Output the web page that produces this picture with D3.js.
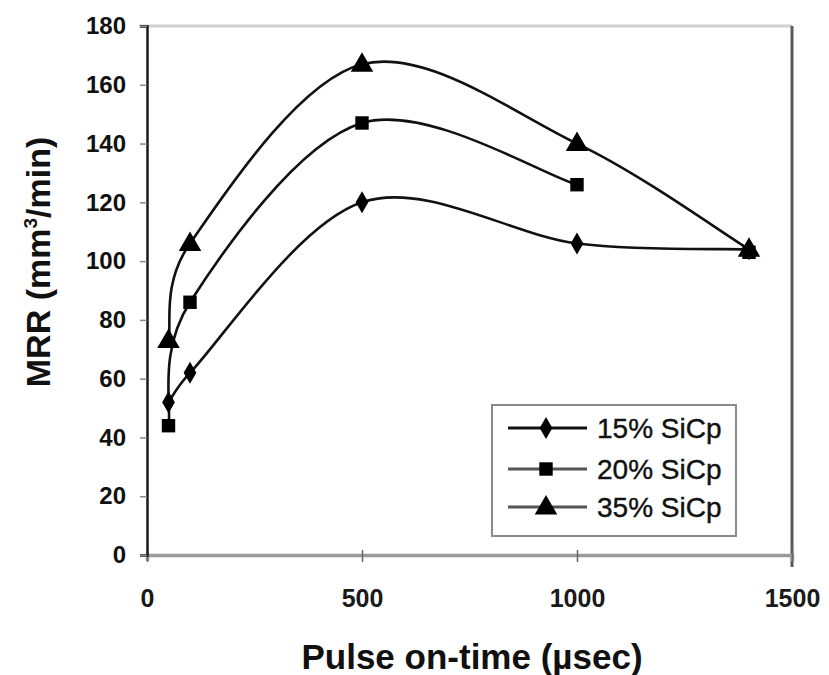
<!DOCTYPE html>
<html>
<head>
<meta charset="utf-8">
<script src="https://cdn.jsdelivr.net/npm/d3@7"></script>
<style>
  html, body { margin: 0; padding: 0; background: #fff; }
  svg { display: block; font-family: "Liberation Sans", Arial, sans-serif; }
</style>
</head>
<body>
<svg id="chart" width="829" height="675"></svg>
<script>
// ---- data ----
const pulseOnTime = [50, 100, 500, 1000, 1400];
const sic15 = [52, 62, 120, 106, 104];
const sic20 = [44, 86, 147, 126, 103];
const sic35 = [73, 106, 167, 140, 104];
const seriesNames = ["15% SiCp", "20% SiCp", "35% SiCp"];
const seriesShapes = ["diamond", "square", "triangle"];
const seriesLinePoints = [5, 4, 5]; // number of points joined by the line
const yTicks = [0, 20, 40, 60, 80, 100, 120, 140, 160, 180];
const xTicks = [0, 500, 1000, 1500];
const xTitle = "Pulse on-time (\u00B5sec)";

const seriesValues = [sic15, sic20, sic35];

// Excel-style smoothed line: Catmull-Rom Bezier with control arms capped at half the segment
function ExcelCurve(context) { this._context = context; }
ExcelCurve.prototype = {
  areaStart() { this._line = 0; },
  areaEnd() { this._line = NaN; },
  lineStart() { this._pts = []; },
  point(px, py) { this._pts.push([+px, +py]); },
  lineEnd() {
    const p = this._pts, c = this._context, n = p.length;
    if (!n) return;
    c.moveTo(p[0][0], p[0][1]);
    if (n === 1) return;
    const arm = (a, b, seg) => {
      let vx = (b[0] - a[0]) / 6, vy = (b[1] - a[1]) / 6;
      const len = Math.hypot(vx, vy), cap = seg / 2;
      if (len > cap && len > 0) { vx *= cap / len; vy *= cap / len; }
      return [vx, vy];
    };
    for (let i = 0; i < n - 1; i++) {
      const p0 = p[i - 1] || p[i], p1 = p[i], p2 = p[i + 1], p3 = p[i + 2] || p[i + 1];
      const seg = Math.hypot(p2[0] - p1[0], p2[1] - p1[1]);
      const a1 = arm(p0, p2, seg), a2 = arm(p1, p3, seg);
      c.bezierCurveTo(p1[0] + a1[0], p1[1] + a1[1], p2[0] - a2[0], p2[1] - a2[1], p2[0], p2[1]);
    }
  }
};
const curveExcel = ctx => new ExcelCurve(ctx);

const svg = d3.select("#chart");
const x = d3.scaleLinear().domain([0, 1500]).range([147, 792]);
const y = d3.scaleLinear().domain([0, 180]).range([555, 26]);

// plot frame: top (light) and right (dark)
svg.append("line").attr("x1", x(0) - 8).attr("x2", x(1500)).attr("y1", y(180)).attr("y2", y(180))
  .attr("stroke", "#cfcfcf").attr("stroke-width", 3);
svg.append("line").attr("x1", x(1500)).attr("x2", x(1500)).attr("y1", y(180)).attr("y2", y(0) + 12)
  .attr("stroke", "#5a5a5a").attr("stroke-width", 3);

// x axis
const xAxis = svg.append("g").attr("transform", `translate(0,${y(0)})`)
  .call(d3.axisBottom(x).tickValues(xTicks).tickSize(6).tickPadding(28).tickFormat(d3.format("d")));
xAxis.select(".domain").attr("stroke", "#9a9a9a").attr("stroke-width", 3.5);
xAxis.selectAll(".tick line").attr("y1", -5).attr("y2", 7).attr("stroke", "#666").attr("stroke-width", 1.5);
xAxis.selectAll(".tick text").attr("font-size", 25).attr("font-weight", "bold").attr("fill", "#1a1a1a")
  .attr("font-family", "'Liberation Sans', Arial, sans-serif");

// y axis
const yAxis = svg.append("g").attr("transform", `translate(${x(0)},0)`)
  .call(d3.axisLeft(y).tickValues(yTicks).tickSize(7).tickPadding(14).tickFormat(d3.format("d")));
yAxis.select(".domain").attr("stroke", "#1a1a1a").attr("stroke-width", 2.5);
yAxis.selectAll(".tick line").attr("stroke", "#888").attr("stroke-width", 1.5);
yAxis.selectAll(".tick text").attr("font-size", 24).attr("font-weight", "bold").attr("fill", "#111")
  .attr("font-family", "'Liberation Sans', Arial, sans-serif");

// axis titles
svg.append("text").attr("x", 472).attr("y", 669).attr("text-anchor", "middle")
  .attr("font-size", 35).attr("font-weight", "bold").attr("fill", "#111").text(xTitle);
const yt = svg.append("text").attr("transform", `translate(50,262) rotate(-90)`)
  .attr("text-anchor", "middle").attr("font-size", 34).attr("font-weight", "bold").attr("fill", "#111");
yt.append("tspan").text("MRR (mm");
yt.append("tspan").attr("font-size", 19).attr("dy", -13).text("3");
yt.append("tspan").attr("dy", 13).text("/min)");

// markers
const symbolType = { diamond: d3.symbolDiamond, square: d3.symbolSquare, triangle: d3.symbolTriangle };
const symbolSize = { diamond: 140, square: 180, triangle: 220 };
function marker(g, shape, cx, cy) {
  g.append("path")
    .attr("d", d3.symbol().type(symbolType[shape]).size(symbolSize[shape])())
    .attr("transform", `translate(${cx},${cy + (shape === "triangle" ? 1 : 0)})`)
    .attr("fill", "#000");
}

// lines (Excel-like smoothed lines)
const line = d3.line().x(d => x(d[0])).y(d => y(d[1])).curve(curveExcel);
const plot = svg.append("g");
seriesValues.forEach((vals, i) => {
  const pts = pulseOnTime.map((px, j) => [px, vals[j]]);
  plot.append("path").datum(pts.slice(0, seriesLinePoints[i]))
    .attr("d", line).attr("fill", "none").attr("stroke", "#111").attr("stroke-width", 2.6);
});
seriesValues.forEach((vals, i) => {
  pulseOnTime.forEach((px, j) => marker(plot, seriesShapes[i], x(px), y(vals[j])));
});

// legend
const lg = svg.append("g");
lg.append("rect").attr("x", 492).attr("y", 405).attr("width", 244).attr("height", 131)
  .attr("fill", "#fff").attr("stroke", "#8a8a8a").attr("stroke-width", 2);
const rowY = [428, 469, 507];
seriesNames.forEach((name, i) => {
  lg.append("line").attr("x1", 508).attr("x2", 587).attr("y1", rowY[i]).attr("y2", rowY[i])
    .attr("stroke", i === 0 ? "#111" : "#555").attr("stroke-width", 3);
  marker(lg, seriesShapes[i], 546, rowY[i]);
  lg.append("text").attr("x", 597).attr("y", rowY[i] + 10).attr("font-size", 28)
    .attr("fill", "#111").attr("stroke", "#111").attr("stroke-width", 0.4).text(name);
});
</script>
</body>
</html>
